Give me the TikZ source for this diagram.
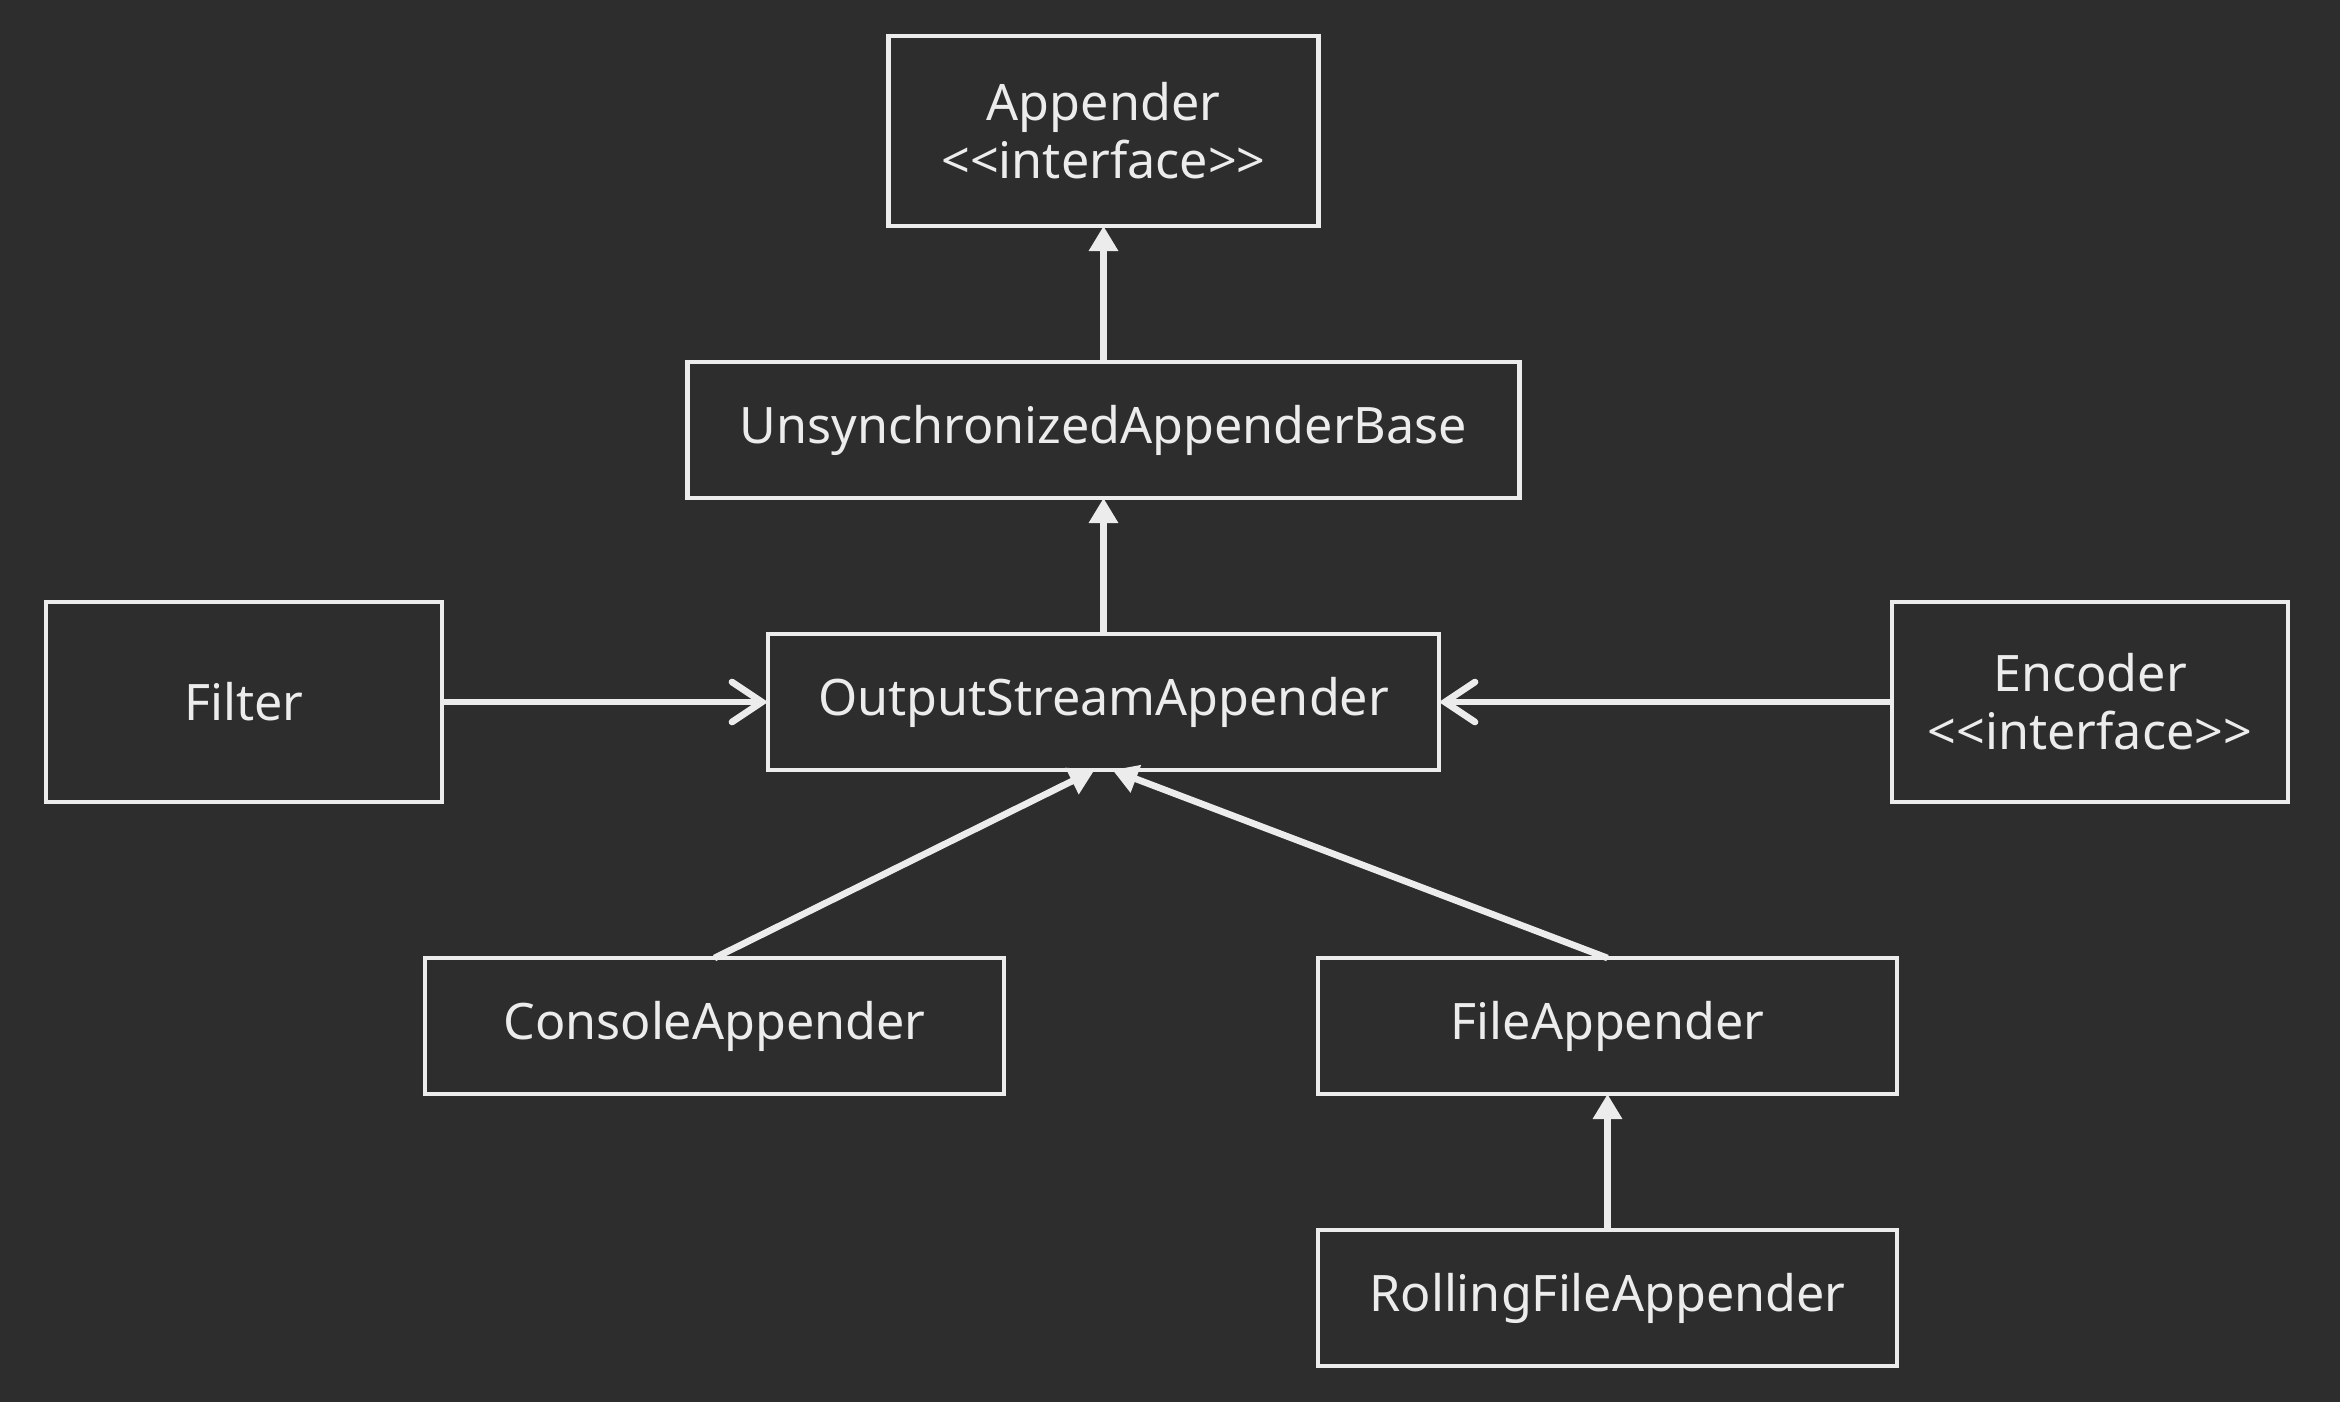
\documentclass[tikz,border=0pt]{standalone}
\usepackage{fontspec}
\setmainfont{Noto Sans}
\usetikzlibrary{positioning,arrows.meta}
\definecolor{board}{HTML}{2D2D2D}
\definecolor{chalk}{HTML}{ECECEC}

\begin{document}
\begin{tikzpicture}[
    isa/.style={{Triangle[length=0.25cm, width=0.28cm]}-},
    uses/.style={-{Straight Barb[length=0.3cm, width=0.4cm, line cap=round]}},
    every edge/.style={draw=chalk, line width=1.9pt},
    iface/.style={minimum width=3.96cm, minimum height=2cm},
    every node/.style={ draw=chalk,
                        text=chalk,
                        line width=1.4pt,
                        font=\fontsize{14.3}{16.5}\selectfont,
                        align=center,
                        inner sep=0pt,
                        outer sep=0pt,
                        node distance=1.36cm,
                        minimum width=5.79cm,
                        minimum height=1.36cm}]

    \fill[board] (0,0) rectangle (23.4,-14.02);
    \useasboundingbox (0,0) rectangle (23.4,-14.02);

    \node[minimum width=6.71cm] at (11.035,-7.02) (osa) {OutputStreamAppender};
    \node[above=of osa, minimum width=8.32cm] (usb) {UnsynchronizedAppenderBase} edge[isa] (osa);
    \node[above=of usb, minimum width=4.3cm, minimum height=1.9cm] (app) {Appender\\{<}{<}interface{>}{>}} edge[isa] (usb);

    \node[iface, left=3.26 of osa] (filter) {Filter} edge[uses] (osa);
    \node[iface, right=4.53 of osa] (encoder) {Encoder\\{<}{<}interface{>}{>}} edge[uses] (osa);

    \node at (7.145,-10.26) (console) {ConsoleAppender};
    \node at (16.075,-10.26) (file) {FileAppender};
    \node[below=of file] (rolling) {RollingFileAppender};

    \draw[-{Triangle[length=0.25cm, width=0.28cm]}, draw=chalk, fill=chalk, line width=1.9pt] (console.north) -- ([xshift=-0.09cm]osa.south);
    \draw[-{Triangle[length=0.25cm, width=0.28cm]}, draw=chalk, fill=chalk, line width=1.9pt] (file.north) -- ([xshift=0.09cm]osa.south);
    \draw[-{Triangle[length=0.25cm, width=0.28cm]}, draw=chalk, fill=chalk, line width=1.9pt] (rolling) -- (file);

\end{tikzpicture}
\end{document}
